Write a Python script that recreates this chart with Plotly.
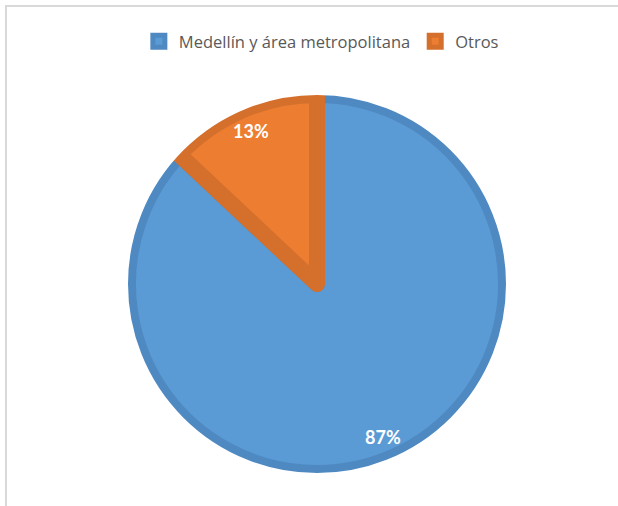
import math
import plotly.graph_objects as go

# Data
categories = ["Medellín y área metropolitana", "Otros"]
values = [87, 13]
label_texts = ["87%", "13%"]

fill_colors = ["#5B9BD5", "#ED7D31"]
edge_colors = ["#4F89C2", "#D4702C"]

W, H = 618, 506
cx, cy, r = 317, 284, 189  # pixel centre and radius of pie

dom_x = [cx / W - 0.33, cx / W + 0.33]
dom_y = [1 - cy / H - r / H, 1 - cy / H + r / H]

fig = go.Figure()
fig.add_trace(go.Pie(
    labels=categories,
    values=values,
    sort=False,
    direction="clockwise",
    rotation=0,
    textinfo="none",
    marker=dict(colors=fill_colors, line=dict(color=edge_colors, width=16)),
    domain=dict(x=dom_x, y=dom_y),
    hoverinfo="label+percent",
))

# white ring hiding the outer half of the slice outline
R = r + 5
shapes = [
    dict(type="circle", xref="paper", yref="paper", layer="above",
         x0=(cx - R) / W, x1=(cx + R) / W,
         y0=1 - (cy + R) / H, y1=1 - (cy - R) / H,
         line=dict(color="white", width=10), fillcolor="rgba(0,0,0,0)"),
    dict(type="rect", xref="paper", yref="paper", layer="below",
         x0=6 / W, x1=1.05, y0=-0.05, y1=1 - 6 / H,
         line=dict(color="#D9D9D9", width=2), fillcolor="rgba(0,0,0,0)"),
]

# percentage labels positioned from the data (mid-angle of each slice)
total = sum(values)
annotations = []
cum = 0
d = 0.88 * r
for v, t in zip(values, label_texts):
    mid = (cum + v / 2) / total * 2 * math.pi
    px = cx + d * math.sin(mid)
    py = cy - d * math.cos(mid)
    annotations.append(dict(
        x=px / W, y=1 - py / H, xref="paper", yref="paper",
        text=t, showarrow=False,
        font=dict(family="Lato", size=18, color="white", weight="bold"),
        xanchor="center", yanchor="middle",
    ))
    cum += v

fig.update_layout(
    width=W, height=H,
    margin=dict(l=0, r=0, t=0, b=0),
    paper_bgcolor="white",
    plot_bgcolor="white",
    showlegend=True,
    legend=dict(
        orientation="h",
        x=0.52, xanchor="center",
        y=1 - 24 / H, yanchor="top",
        font=dict(family="Open Sans", size=16.5, color="#595959"),
        itemwidth=30,
        traceorder="normal",
    ),
    shapes=shapes,
    annotations=annotations,
)

fig.write_html("out.html")
